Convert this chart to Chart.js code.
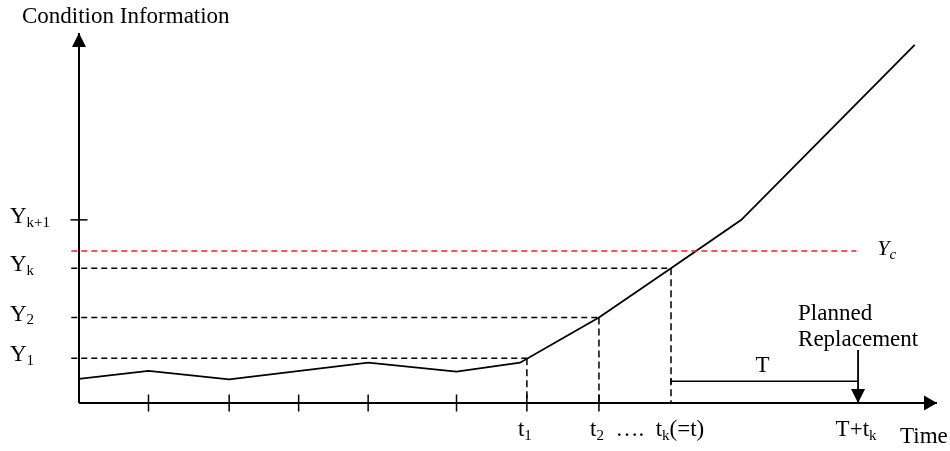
<!DOCTYPE html>
<html>
<head>
<meta charset="utf-8">
<script src="https://cdn.jsdelivr.net/npm/chart.js@4.4.1/dist/chart.umd.min.js"></script>
<style>
html, body { margin: 0; padding: 0; background: #fff; }
</style>
</head>
<body>
<canvas id="condChart" width="950" height="451"></canvas>
<script>
// time axis and condition axis both run 0..100 (arbitrary units)
const conditionTimes = [0, 8.1, 17.5, 33.7, 44.0, 51.4, 60.6, 69.0, 77.2, 97.4];
const conditionValues = [6.5, 8.7, 6.4, 10.9, 8.5, 10.9, 23.1, 36.4, 49.5, 96.8];

const axisTicks = [8.1, 17.5, 25.6, 33.7, 44.0, 52.2, 60.6];
const monitorTimes = [52.2, 60.6, 69.0];   // t1, t2, tk
const monitorLevels = [12.1, 23.1, 36.4];  // Y1, Y2, Yk
const levelLabels = ['Y_{1}', 'Y_{2}', 'Y_{k}', 'Y_{k+1}'];
const levelValues = [12.1, 23.1, 36.4, 49.5];
const criticalLevel = 41.1;  // Yc
const criticalEnd = 90.6;
const replaceTime = 90.8;    // T+tk
const horizonLevel = 5.9;    // height of the T bracket
const replaceArrowTop = 14.3;
const timeLabels = ['t_{1}', 't_{2}  ….  t_{k}(=t)', 'T+t_{k}'];
const timeLabelAt = [52.2, 60.6, 90.8];

const FONT = '"Liberation Serif", "Times New Roman", serif';

const seg = (pts, extra) => Object.assign({
  data: pts, showLine: true, borderColor: '#000', borderWidth: 1.5,
  pointRadius: 0, tension: 0, clip: false, fill: false
}, extra || {});

const datasets = [];
// axes
datasets.push(seg([{x: 0, y: 0}, {x: 0, y: 100}], {borderWidth: 2}));
datasets.push(seg([{x: 0, y: 0}, {x: 100, y: 0}], {borderWidth: 2}));
// x axis tick marks
datasets.push(seg(axisTicks.map(t => ({x: t, y: 0})), {
  showLine: false, pointStyle: 'line', rotation: 90, pointRadius: 8.5, borderWidth: 1.5
}));
// Yk+1 tick on y axis
datasets.push(seg([{x: 0, y: levelValues[3]}], {
  showLine: false, pointStyle: 'line', pointRadius: 8.5, borderWidth: 1.5
}));
// monitoring levels / times
monitorTimes.forEach((t, i) => {
  datasets.push(seg([{x: -0.9, y: monitorLevels[i]}, {x: t, y: monitorLevels[i]}], {borderDash: [6, 4]}));
  datasets.push(seg([{x: t, y: monitorLevels[i]}, {x: t, y: 0}], {borderDash: [7, 4]}));
});
// critical level
datasets.push(seg([{x: -0.9, y: criticalLevel}, {x: criticalEnd, y: criticalLevel}], {
  borderColor: '#ff1a1a', borderDash: [6, 4]
}));
// condition path
datasets.push(seg(conditionTimes.map((t, i) => ({x: t, y: conditionValues[i]})), {borderWidth: 1.8}));
// T bracket
datasets.push(seg([{x: monitorTimes[2], y: horizonLevel}, {x: replaceTime, y: horizonLevel}], {
  pointStyle: 'line', rotation: 90, pointRadius: [3, 0], borderWidth: 1.5
}));
// planned replacement arrow shaft
datasets.push(seg([{x: replaceTime, y: replaceArrowTop}, {x: replaceTime, y: 0}], {borderWidth: 1.8}));

function parseRich(str) {
  const parts = [];
  const re = /_\{([^}]*)\}/g;
  let last = 0, m;
  while ((m = re.exec(str))) {
    if (m.index > last) parts.push([str.slice(last, m.index), false]);
    parts.push([m[1], true]);
    last = re.lastIndex;
  }
  if (last < str.length) parts.push([str.slice(last), false]);
  return parts;
}
function richFont(size, sub, italic) {
  return (italic ? 'italic ' : '') + (sub ? Math.round(size * 0.66) : size) + 'px ' + FONT;
}
function richWidth(ctx, str, size, italic) {
  let w = 0;
  parseRich(str).forEach(([txt, sub]) => { ctx.font = richFont(size, sub, italic); w += ctx.measureText(txt).width; });
  return w;
}
function drawRich(ctx, str, x, y, size, italic) {
  let cx = x;
  parseRich(str).forEach(([txt, sub]) => {
    ctx.font = richFont(size, sub, italic);
    ctx.fillText(txt, cx, sub ? y + size * 0.17 : y);
    cx += ctx.measureText(txt).width;
  });
}
function arrowHead(ctx, x, y, dir, len, half) {
  ctx.beginPath();
  if (dir === 'up') { ctx.moveTo(x, y); ctx.lineTo(x - half, y + len); ctx.lineTo(x + half, y + len); }
  if (dir === 'down') { ctx.moveTo(x, y); ctx.lineTo(x - half, y - len); ctx.lineTo(x + half, y - len); }
  if (dir === 'right') { ctx.moveTo(x, y); ctx.lineTo(x - len, y - half); ctx.lineTo(x - len, y + half); }
  ctx.closePath();
  ctx.fill();
}

const annotations = {
  id: 'annotations',
  afterDatasetsDraw(chart) {
    const ctx = chart.ctx, xs = chart.scales.x, ys = chart.scales.y;
    ctx.save();
    ctx.fillStyle = '#000';
    ctx.textBaseline = 'alphabetic';
    const x0 = xs.getPixelForValue(0), y0 = ys.getPixelForValue(0);
    arrowHead(ctx, x0, ys.getPixelForValue(100), 'up', 14, 7);
    arrowHead(ctx, xs.getPixelForValue(100), y0, 'right', 13, 7.5);
    const rx = xs.getPixelForValue(replaceTime);
    arrowHead(ctx, rx, y0, 'down', 14, 7);

    ctx.font = '23px ' + FONT;
    ctx.fillText('Condition Information', x0 - 57, 23);
    ctx.fillText('Time', xs.getPixelForValue(100) - 37, y0 + 40);

    levelLabels.forEach((lab, i) => drawRich(ctx, lab, 10, ys.getPixelForValue(levelValues[i]) + 3, 23));
    drawRich(ctx, 'Y_{c}', xs.getPixelForValue(criticalEnd) + 21, ys.getPixelForValue(criticalLevel) + 4, 22, true);

    timeLabels.forEach((lab, i) => {
      const first = lab.split(' ')[0];
      const w = richWidth(ctx, first, 23);
      drawRich(ctx, lab, xs.getPixelForValue(timeLabelAt[i]) - w / 2 - 2, y0 + 33, 23);
    });

    const hy = ys.getPixelForValue(horizonLevel);
    ctx.font = '23px ' + FONT;
    ctx.textAlign = 'center';
    ctx.fillText('T', (xs.getPixelForValue(monitorTimes[2]) + rx) / 2 - 2, hy - 9);
    ctx.textAlign = 'left';
    const at = ys.getPixelForValue(replaceArrowTop);
    ctx.fillText('Planned', rx - 60, at - 30);
    ctx.fillText('Replacement', rx - 60, at - 4);
    ctx.restore();
  }
};

new Chart(document.getElementById('condChart'), {
  type: 'scatter',
  data: { datasets: datasets },
  options: {
    responsive: false,
    animation: false,
    layout: { padding: { left: 79, right: 13, top: 33, bottom: 48 } },
    plugins: { legend: { display: false }, tooltip: { enabled: false } },
    scales: {
      x: { type: 'linear', min: 0, max: 100, display: false },
      y: { type: 'linear', min: 0, max: 100, display: false }
    }
  },
  plugins: [annotations]
});
</script>
</body>
</html>
